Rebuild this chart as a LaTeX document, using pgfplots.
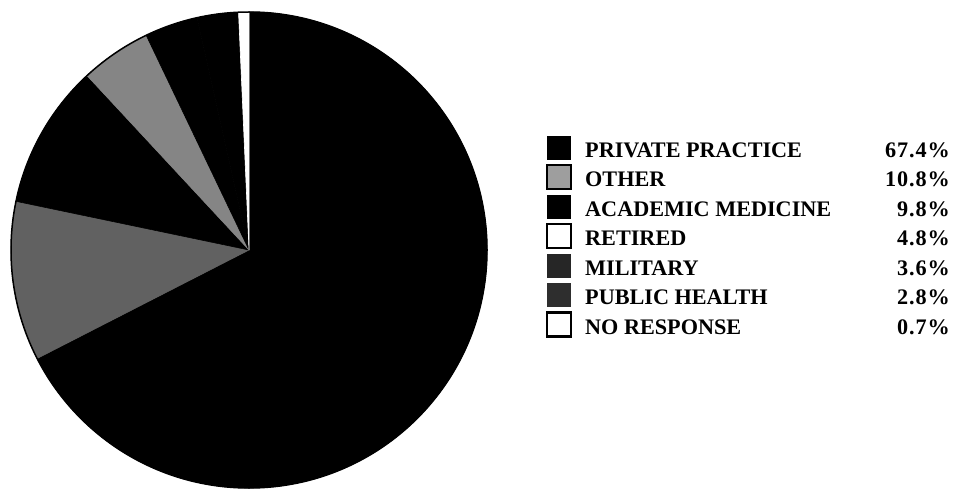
\documentclass[border=0pt]{standalone}
\usepackage{fontspec}
\setmainfont{Liberation Serif}
\usepackage{pgfplots}
\usepackage{pgfplotstable}
\pgfplotsset{compat=1.18}

% slice data: value (%), fill darkness (% black)
\pgfplotstableread{
name value dark
Private  67.4 100
Other    10.8 62
Academic  9.8 100
Retired   4.8 48
Military  3.6 100
Public    2.8 100
NoResp    0.7 0
}\piedata

\begin{document}
\begin{tikzpicture}[x=1pt,y=1pt]
\path (0,0) rectangle (956,491);
% cumulative angles, clockwise from 12 o'clock
\gdef\cumangle{90}
\foreach \i in {0,...,6}{
  \pgfplotstablegetelem{\i}{value}\of\piedata
  \pgfmathsetmacro\endang{\cumangle - 3.6036*\pgfplotsretval}
  \pgfplotstablegetelem{\i}{dark}\of\piedata
  \expandafter\xdef\csname sA\i\endcsname{\cumangle}
  \expandafter\xdef\csname sB\i\endcsname{\endang}
  \expandafter\xdef\csname sK\i\endcsname{\pgfplotsretval}
  \xdef\cumangle{\endang}
}
\begin{axis}[at={(249pt,241pt)}, anchor=center, scale only axis,
  width=476pt, height=476pt, xmin=-1, xmax=1, ymin=-1, ymax=1,
  axis lines=none, clip=false]
\pgfplotsinvokeforeach{0,...,6}{
  \filldraw[black!\csname sK#1\endcsname, line width=0.6pt, line join=round]
    (axis cs:0,0) -- +(\csname sA#1\endcsname:238pt)
    arc[start angle=\csname sA#1\endcsname, end angle=\csname sB#1\endcsname, radius=238pt] -- cycle;
}
\draw[black, line width=1.5pt] (axis cs:0,0) circle[radius=238pt];
\end{axis}

% legend
\fontsize{22.2}{26}\selectfont\bfseries
\foreach \i/\lab/\pct/\sty in {
  0/PRIVATE PRACTICE/67.4\%/{fill=black},
  1/OTHER/10.8\%/{fill=black!38, draw=black, line width=2.4pt},
  2/ACADEMIC MEDICINE/9.8\%/{fill=black},
  3/RETIRED/4.8\%/{fill=white, draw=black, line width=2.6pt},
  4/MILITARY/3.6\%/{fill=black!85},
  5/PUBLIC HEALTH/2.8\%/{fill=black!82},
  6/NO RESPONSE/0.7\%/{fill=white, draw=black, line width=2.6pt}}{
  \pgfmathsetmacro\by{491-157.3-29.45*\i}
  \expandafter\path\expandafter[\sty] (547,\by-2.5) rectangle (571,\by+21.5);
  \node[anchor=base west, inner sep=0pt] at (585,\by) {\lab};
  \node[anchor=base east, inner sep=0pt] at (950,\by) {\addfontfeature{LetterSpace=4}\pct};
}
\end{tikzpicture}
\end{document}
